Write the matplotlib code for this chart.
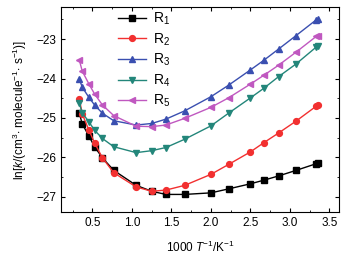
import numpy as np
import matplotlib
matplotlib.use("Agg")
import matplotlib.pyplot as plt
from matplotlib.ticker import MultipleLocator

plt.rcParams['font.family'] = ['Liberation Sans', 'DejaVu Sans']
plt.rcParams['mathtext.fontset'] = 'custom'
plt.rcParams['mathtext.rm'] = 'Liberation Sans'
plt.rcParams['mathtext.it'] = 'Liberation Sans:italic'

# 1000/T values
inv_t = [0.333, 0.37, 0.455, 0.526, 0.625, 0.769, 1.053, 1.25, 1.429, 1.667,
         2.0, 2.222, 2.5, 2.667, 2.857, 3.077, 3.333, 3.354]

r1 = [-24.88, -25.15, -25.46, -25.73, -26.01, -26.33, -26.71, -26.86, -26.94, -26.94,
      -26.90, -26.80, -26.67, -26.58, -26.47, -26.33, -26.16, -26.14]
r2 = [-24.51, -24.90, -25.31, -25.63, -26.01, -26.39, -26.75, -26.86, -26.83, -26.71,
      -26.43, -26.18, -25.86, -25.63, -25.38, -25.08, -24.70, -24.68]
r3 = [-24.01, -24.22, -24.48, -24.67, -24.88, -25.07, -25.18, -25.14, -25.03, -24.82,
      -24.46, -24.17, -23.78, -23.54, -23.25, -22.91, -22.51, -22.49]
r4 = [-24.63, -24.87, -25.10, -25.31, -25.52, -25.73, -25.88, -25.83, -25.75, -25.54,
      -25.20, -24.88, -24.49, -24.25, -23.95, -23.63, -23.20, -23.18]
r5 = [-23.53, -23.81, -24.14, -24.39, -24.67, -24.94, -25.21, -25.22, -25.18, -25.01,
      -24.73, -24.49, -24.14, -23.92, -23.66, -23.33, -22.93, -22.93]

labels = ['R$_1$', 'R$_2$', 'R$_3$', 'R$_4$', 'R$_5$']
series = [r1, r2, r3, r4, r5]
colors = ['black', '#f23030', '#3a4fb0', '#23867a', '#c058c0']
markers = ['s', 'o', '^', 'v', '<']

fig = plt.figure(figsize=(3.48, 2.57), dpi=100)
ax = fig.add_axes([0.175, 0.176, 0.799, 0.796])

for ys, lab, c, m in zip(series, labels, colors, markers):
    ax.plot(inv_t, ys, color=c, marker=m, markersize=4.2, linewidth=1.0, label=lab)

ax.set_xlim(0.1, 3.62)
ax.set_ylim(-27.38, -22.19)
ax.xaxis.set_major_locator(MultipleLocator(0.5))
ax.xaxis.set_minor_locator(MultipleLocator(0.25))
ax.yaxis.set_major_locator(MultipleLocator(1))
ax.yaxis.set_minor_locator(MultipleLocator(0.5))
ax.tick_params(which='both', direction='in', top=True, right=True, labelsize=8.5)
ax.tick_params(which='major', length=3)
ax.tick_params(which='minor', length=1.5)

ax.set_xlabel(r'1000 $T$$^{-1}$/K$^{-1}$', fontsize=8.5, labelpad=8)
ax.set_ylabel(r'ln[$k$/(cm$^3$$\cdot$ molecule$^{-1}$$\cdot$ s$^{-1}$)]', fontsize=8.5, labelpad=5)

ax.legend(loc='upper left', bbox_to_anchor=(0.17, 1.03), frameon=False, fontsize=10,
          handlelength=2.0, handletextpad=0.5, labelspacing=0.3, borderaxespad=0.3)

fig.savefig('out.png', dpi=100)
